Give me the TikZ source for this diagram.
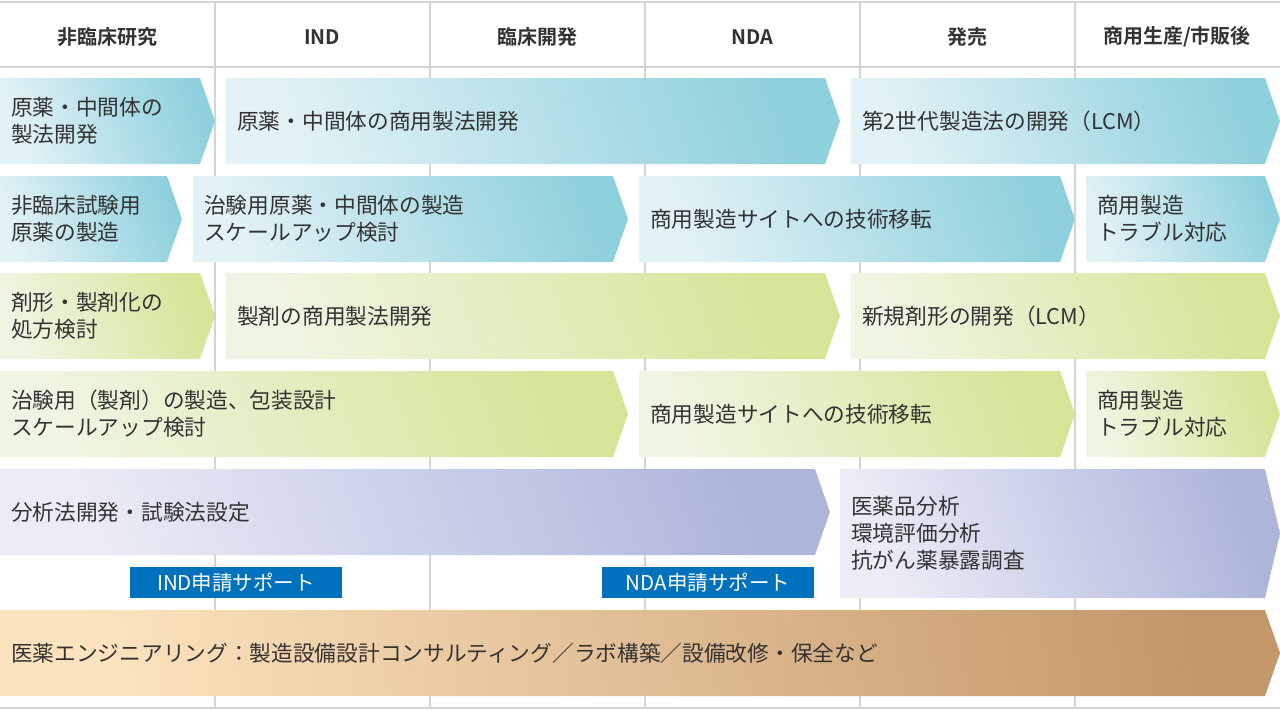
\documentclass[tikz,border=0pt]{standalone}
\usepackage{fontspec}
\setmainfont{Noto Sans CJK JP}
\newfontfamily\boldjp{Noto Sans CJK JP Bold}
\colorlet{txt}{black!80}
\definecolor{bluea}{HTML}{E3F2F6}\definecolor{blueb}{HTML}{8ED0DC}
\definecolor{greena}{HTML}{EFF5E3}\definecolor{greenb}{HTML}{D4E597}
\definecolor{purpa}{HTML}{EBECF6}\definecolor{purpb}{HTML}{ADB5DB}
\definecolor{orna}{HTML}{FDE4BF}\definecolor{ornb}{HTML}{C4976A}
\definecolor{supp}{HTML}{0071BC}
\begin{document}
\begin{tikzpicture}[x=1pt,y=-1pt,
    grid/.style={draw=black!17,line width=1.2pt},
    head/.style={font=\boldjp\fontsize{20}{20}\selectfont,text=txt},
    lbl/.style={anchor=west,align=left,font=\fontsize{21.7}{27}\selectfont,text=txt,inner sep=0pt},
    blue/.style={left color=bluea,right color=blueb,shading angle=110},
    green/.style={left color=greena,right color=greenb,shading angle=110},
    purp/.style={left color=purpa,right color=purpb,shading angle=110},
    orn/.style={left color=orna,right color=ornb,shading angle=100},
    sup/.style={fill=supp,text=white,minimum width=212pt,minimum height=31pt,inner sep=0pt,font=\fontsize{20.5}{20}\selectfont}]
\useasboundingbox (0,0) rectangle (1280,710);
% table grid
\foreach \cx in {215,430,645,860,1075} \draw[grid] (\cx,2) -- (\cx,708);
\draw[grid] (0,2) -- (1280,2);
\draw[grid] (0,67) -- (1280,67);
\draw[grid] (0,708) -- (1280,708);
\foreach \cx/\ttl in {107/非臨床研究,322/IND,537/臨床開発,752/NDA,967/発売,1177/{商用生産/市販後}}
  \node[head] (h\cx) at (\cx,37) {\ttl};
% arrows: x1,x2,y1,y2,style,name,text
\foreach \xa/\xb/\ya/\yb/\sty/\nm/\txt in {
  0/215/78/164/blue/a1/{原薬・中間体の\\製法開発},
  226/840/78/164/blue/a2/{原薬・中間体の商用製法開発},
  851/1280/78/164/blue/a3/{第2世代製造法の開発（LCM）},
  0/182/176/262/blue/b1/{非臨床試験用\\原薬の製造},
  193/628/176/262/blue/b2/{治験用原薬・中間体の製造\\スケールアップ検討},
  639/1075/176/262/blue/b3/{商用製造サイトへの技術移転},
  1086/1280/176/262/blue/b4/{商用製造\\トラブル対応},
  0/215/273/359/green/c1/{剤形・製剤化の\\処方検討},
  226/840/273/359/green/c2/{製剤の商用製法開発},
  851/1280/273/359/green/c3/{新規剤形の開発（LCM）},
  0/628/371/457/green/d1/{治験用（製剤）の製造、包装設計\\スケールアップ検討},
  639/1075/371/457/green/d2/{商用製造サイトへの技術移転},
  1086/1280/371/457/green/d3/{商用製造\\トラブル対応},
  0/830/469/555/purp/e1/{分析法開発・試験法設定},
  840/1280/469/598/purp/e2/{医薬品分析\\環境評価分析\\抗がん薬暴露調査},
  0/1280/610/696/orn/f1/{医薬エンジニアリング：製造設備設計コンサルティング／ラボ構築／設備改修・保全など}}
{
  \path[\sty] (\xa,\ya) -- (\xb-15,\ya) -- (\xb,{(\ya+\yb)/2}) -- (\xb-15,\yb) -- (\xa,\yb) -- cycle;
  \node[lbl] (\nm) at (\xa+11,{(\ya+\yb)/2}) {\txt};
}
\node[sup] (ind) at (236,582.5) {IND申請サポート};
\node[sup] (nda) at (708,582.5) {NDA申請サポート};
\end{tikzpicture}
\end{document}
